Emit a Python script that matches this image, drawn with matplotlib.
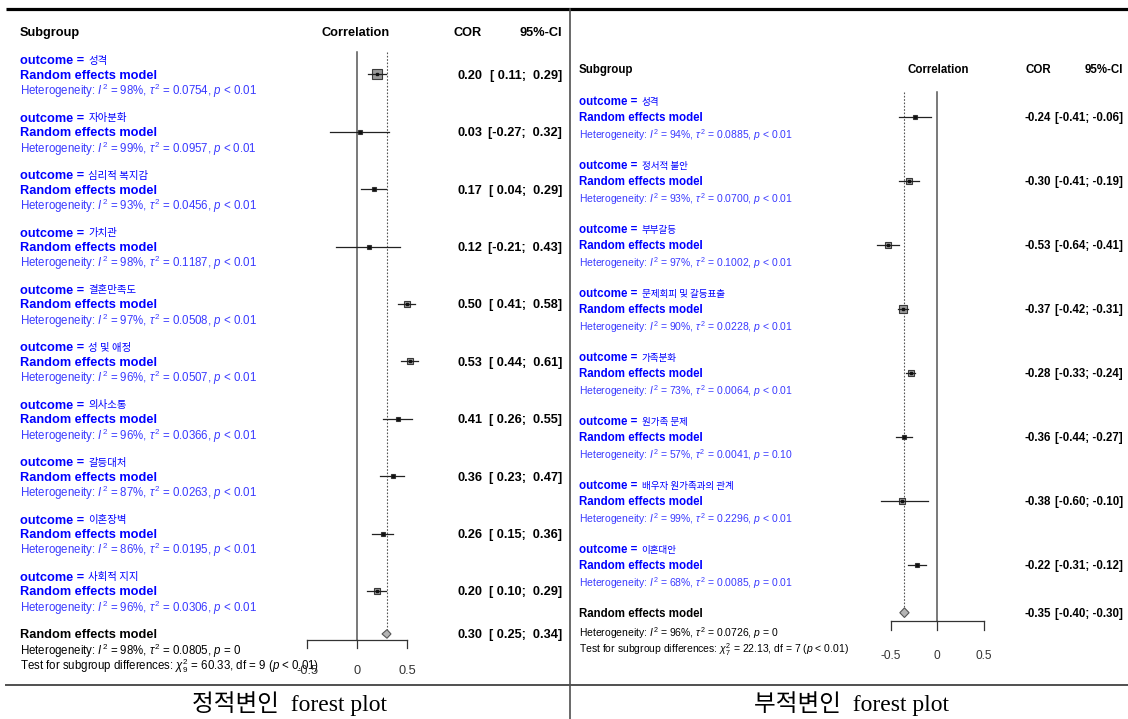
import numpy as np
import matplotlib
matplotlib.use('Agg')
import matplotlib.pyplot as plt
from matplotlib.transforms import blended_transform_factory
from matplotlib.patches import Polygon

plt.rcParams['font.family'] = ['Liberation Sans', 'Noto Sans CJK KR']
plt.rcParams['mathtext.fontset'] = 'custom'
plt.rcParams['mathtext.rm'] = 'Liberation Sans'
plt.rcParams['mathtext.it'] = 'Liberation Sans:italic'
plt.rcParams['mathtext.bf'] = 'Liberation Sans:bold'

##############################################################################
# positive correlates
pos_outcome = ['성격', '자아분화', '심리적 복지감', '가치관', '결혼만족도',
               '성 및 애정', '의사소통', '갈등대처', '이혼장벽', '사회적 지지']
pos_cor  = [0.20, 0.03, 0.17, 0.12, 0.50, 0.53, 0.41, 0.36, 0.26, 0.20]
pos_lo   = [0.11, -0.27, 0.04, -0.21, 0.41, 0.44, 0.26, 0.23, 0.15, 0.10]
pos_hi   = [0.29, 0.32, 0.29, 0.43, 0.58, 0.61, 0.55, 0.47, 0.36, 0.29]
pos_w    = [35.0, 3.9, 6.9, 3.9, 10.8, 10.8, 6.9, 6.9, 3.9, 10.8]
pos_i2   = [98, 99, 93, 98, 97, 96, 96, 87, 86, 96]
pos_tau2 = ['0.0754', '0.0957', '0.0456', '0.1187', '0.0508',
            '0.0507', '0.0366', '0.0263', '0.0195', '0.0306']
pos_p    = ['< 0.01'] * 10
pos_total = (0.30, 0.25, 0.34)
pos_total_het = (98, '0.0805', '= 0')
pos_test = ('9', '60.33', '< 0.01')

# negative correlates
neg_outcome = ['성격', '정서적 불안', '부부갈등', '문제회피 및 갈등표출',
               '가족분화', '원가족 문제', '배우자 원가족과의 관계', '이혼대안']
neg_cor  = [-0.24, -0.30, -0.53, -0.37, -0.28, -0.36, -0.38, -0.22]
neg_lo   = [-0.41, -0.41, -0.64, -0.42, -0.33, -0.44, -0.60, -0.31]
neg_hi   = [-0.06, -0.19, -0.41, -0.31, -0.24, -0.27, -0.10, -0.12]
neg_w    = [7.0, 15.9, 11.0, 28.2, 15.9, 4.0, 11.0, 7.0]
neg_i2   = [94, 93, 97, 90, 73, 57, 99, 68]
neg_tau2 = ['0.0885', '0.0700', '0.1002', '0.0228', '0.0064',
            '0.0041', '0.2296', '0.0085']
neg_p    = ['< 0.01', '< 0.01', '< 0.01', '< 0.01', '< 0.01',
            '= 0.10', '< 0.01', '= 0.01']
neg_total = (-0.35, -0.40, -0.30)
neg_total_het = (96, '0.0726', '= 0')
neg_test = ('7', '22.13', '< 0.01')

ticks = [-0.5, 0, 0.5]
tick_labels = ['-0.5', '0', '0.5']

##############################################################################
W, H = 1128, 719
BLUE = '#0000ff'
HETBLUE = '#3a3aff'
LINE = '#555555'


def fmt_ci(lo, hi):
    return '[{0:5.2f}; {1:5.2f}]'.format(lo, hi)


def forest(fig, page, lay, outcome, cor, lo, hi, w, i2, tau2, pval,
           total, total_het, test):
    x0, x1, y_top, y_bot = lay['box']
    px0, pxu, y0, dy = lay['px0'], lay['pxu'], lay['y0'], lay['dy']
    ax = fig.add_axes([x0 / W, 1 - y_bot / H, (x1 - x0) / W,
                       (y_bot - y_top) / H])
    ax.set_xlim((x0 - px0) / pxu, (x1 - px0) / pxu)
    ax.set_ylim((y_bot - y0) / dy, (y_top - y0) / dy)
    ax.axis('off')
    tr = blended_transform_factory(page.transData, ax.transData)

    fb, fh, fk = lay['fs_bold'], lay['fs_het'], lay['fs_kor']
    n = len(cor)
    rows = np.arange(n) * 4
    y_tot = rows[-1] + 3
    y_axis = y_tot + lay['axis_off']
    y_head = -3
    y_top_line = -1.55

    # header
    ax.text(lay['x_text'], y_head, 'Subgroup', transform=tr, fontsize=fb,
            fontweight='bold', va='center_baseline')
    ax.text(lay['x_corr'], y_head, 'Correlation', transform=tr, fontsize=fb,
            fontweight='bold', ha='center', va='center_baseline')
    ax.text(lay['x_cor'], y_head, 'COR', transform=tr, fontsize=fb,
            fontweight='bold', ha='right', va='center_baseline')
    ax.text(lay['x_ci'], y_head, '95%-CI', transform=tr, fontsize=fb,
            fontweight='bold', ha='right', va='center_baseline')

    # reference lines
    ax.plot([0, 0], [y_top_line, y_axis], color=LINE, lw=1.1,
            clip_on=False)
    ax.plot([total[0], total[0]], [y_top_line, y_tot - 0.3], color=LINE,
            lw=0.8, ls=(0, (1.5, 1.5)), clip_on=False)

    # subgroup estimates
    wmax = max(w)
    for i in range(n):
        y = rows[i]
        t = ax.text(lay['x_text'], y - 1, 'outcome =', transform=tr,
                    fontsize=fb, fontweight='bold', color=BLUE,
                    va='center_baseline')
        ax.annotate(outcome[i], xy=(1, 0), xycoords=t, xytext=(3, 1.2),
                    textcoords='offset points', fontsize=fk, color=BLUE,
                    family=['Noto Sans CJK KR'], va='bottom')
        ax.text(lay['x_text'], y, 'Random effects model', transform=tr,
                fontsize=fb, fontweight='bold', color=BLUE,
                va='center_baseline')
        het = ('Heterogeneity: $I^2$ = {0}%, $\\tau^2$ = {1}, $p$ {2}'
               .format(i2[i], tau2[i], pval[i]))
        ax.text(lay['x_text'], y + 1, het, transform=tr, fontsize=fh,
                color=HETBLUE, va='center_baseline')
        ax.text(lay['x_cor'], y, '{0:.2f}'.format(cor[i]), transform=tr,
                fontsize=fb, fontweight='bold', ha='right',
                va='center_baseline')
        ax.text(lay['x_ci'], y, fmt_ci(lo[i], hi[i]), transform=tr,
                fontsize=fb, fontweight='bold', ha='right',
                va='center_baseline')

        size = lay['sq_max'] * np.sqrt(w[i] / wmax) * 0.72
        ax.plot(cor[i], y, marker='s', ms=size, mfc='#9a9a9a',
                mec='#3a3a3a', mew=0.8, ls='none', zorder=3, clip_on=False)
        ax.plot([lo[i], hi[i]], [y, y], color='#222222', lw=0.9, zorder=4,
                clip_on=False)
        ax.plot(cor[i], y, marker='s', ms=1.6, color='#111111', ls='none',
                zorder=5, clip_on=False)

    # overall estimate
    est, tlo, thi = total
    dia = Polygon([[tlo, y_tot], [est, y_tot - 0.3], [thi, y_tot],
                   [est, y_tot + 0.3]], closed=True, fc='#b4b4b4',
                  ec='#555555', lw=0.8, zorder=4, clip_on=False)
    ax.add_patch(dia)
    ax.text(lay['x_text'], y_tot, 'Random effects model', transform=tr,
            fontsize=fb, fontweight='bold', va='center_baseline')
    ax.text(lay['x_cor'], y_tot, '{0:.2f}'.format(est), transform=tr,
            fontsize=fb, fontweight='bold', ha='right', va='center_baseline')
    ax.text(lay['x_ci'], y_tot, fmt_ci(tlo, thi), transform=tr,
            fontsize=fb, fontweight='bold', ha='right', va='center_baseline')
    het = ('Heterogeneity: $I^2$ = {0}%, $\\tau^2$ = {1}, $p$ {2}'
           .format(*total_het))
    ax.text(lay['x_text'], y_tot + lay['het_off'], het, transform=tr,
            fontsize=fh, va='center_baseline')
    df, chi, p = test
    tst = ('Test for subgroup differences: $\\chi^2_{{{0}}}$ = {1}, '
           'df = {0} ($p$ {2})'.format(df, chi, p))
    ax.text(lay['x_text'], y_tot + lay['test_off'], tst, transform=tr,
            fontsize=fh, va='center_baseline')

    # x axis, drawn R style
    ax.plot([ticks[0], ticks[-1]], [y_axis, y_axis], color='#333333',
            lw=0.9, clip_on=False)
    for tk, lab in zip(ticks, tick_labels):
        ax.plot([tk, tk], [y_axis, y_axis + 0.55], color='#333333', lw=0.9,
                clip_on=False)
        ax.text(tk, y_axis + lay['tick_off'], lab, fontsize=lay['fs_tick'],
                color='#333333', ha='center', va='center_baseline')
    return ax


fig = plt.figure(figsize=(W / 100., H / 100.), dpi=100)
page = fig.add_axes([0, 0, 1, 1])
page.set_xlim(0, W)
page.set_ylim(H, 0)
page.axis('off')

# frame rules
page.plot([6, W], [9, 9], color='k', lw=2.3, solid_capstyle='butt')
page.plot([570, 570], [9, H], color='#505050', lw=1.2)
page.plot([6, W], [685, 685], color='#505050', lw=1.4)

left_lay = dict(box=(0, 570, 0, 684), px0=357, pxu=100, y0=74.3, dy=14.35,
                x_text=20, x_cor=482, x_ci=562, x_corr=356,
                fs_bold=9.2, fs_het=8.3, fs_kor=7.5, fs_tick=9.2,
                sq_max=9.5, axis_off=0.45, tick_off=2.0, het_off=1.0,
                test_off=2.05)
right_lay = dict(box=(570, W, 0, 684), px0=937, pxu=93, y0=116.7, dy=16.0,
                 x_text=579, x_cor=1051, x_ci=1123, x_corr=938,
                 fs_bold=8.3, fs_het=7.5, fs_kor=6.9, fs_tick=8.6,
                 sq_max=8.5, axis_off=0.5, tick_off=2.1, het_off=1.15,
                 test_off=2.15)

forest(fig, page, left_lay, pos_outcome, pos_cor, pos_lo, pos_hi, pos_w,
       pos_i2, pos_tau2, pos_p, pos_total, pos_total_het, pos_test)
forest(fig, page, right_lay, neg_outcome, neg_cor, neg_lo, neg_hi, neg_w,
       neg_i2, neg_tau2, neg_p, neg_total, neg_total_het, neg_test)

cap_font = ['Liberation Serif', 'Noto Sans CJK KR']
page.text(289, 704, '정적변인  forest plot', family=cap_font, fontsize=17,
          ha='center', va='center')
page.text(851, 704, '부적변인  forest plot', family=cap_font, fontsize=17,
          ha='center', va='center')

fig.savefig('out.png', dpi=100)
